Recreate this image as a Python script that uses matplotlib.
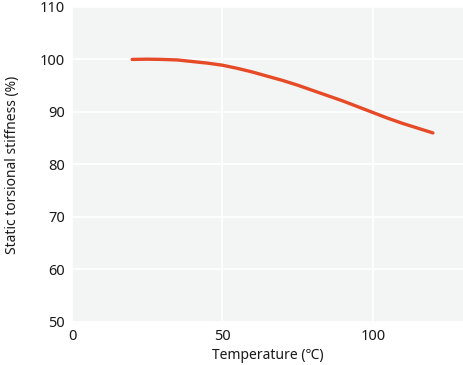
import matplotlib.pyplot as plt

plt.rcParams['font.family'] = ['Noto Sans', 'Noto Sans CJK JP', 'DejaVu Sans']

temperature = [20, 25, 30, 35, 40, 45, 50, 55, 60, 65, 70, 75, 80, 85, 90, 95, 100, 105, 110, 115, 120]
stiffness = [100.0, 100.05, 100.0, 99.9, 99.6, 99.3, 98.9, 98.3, 97.6, 96.8, 96.0, 95.1, 94.1, 93.1, 92.1, 91.0, 89.9, 88.8, 87.8, 86.9, 86.0]

fig = plt.figure(figsize=(4.63, 3.65), dpi=100)
ax = fig.add_axes([0.1555, 0.118, 0.8445, 0.863])
ax.set_facecolor('#f3f4f4')

ax.plot(temperature, stiffness, color='#e64a27', linewidth=2.4, solid_capstyle='round', zorder=3)

ax.set_xlim(0, 130)
ax.set_ylim(50, 110)
ax.set_xticks([0, 50, 100])
ax.set_yticks(range(50, 111, 10))
ax.grid(True, color='white', linewidth=1.2)
ax.set_axisbelow(True)
for s in ax.spines.values():
    s.set_visible(False)
ax.tick_params(length=0, labelsize=10.5, colors='#1a1a1a', pad=5)
ax.set_xlabel('Temperature (℃)', fontsize=10, color='#1a1a1a', labelpad=3)
ax.set_ylabel('Static torsional stiffness (%)', fontsize=10, color='#1a1a1a', labelpad=14)

fig.savefig('out.png', dpi=100)
